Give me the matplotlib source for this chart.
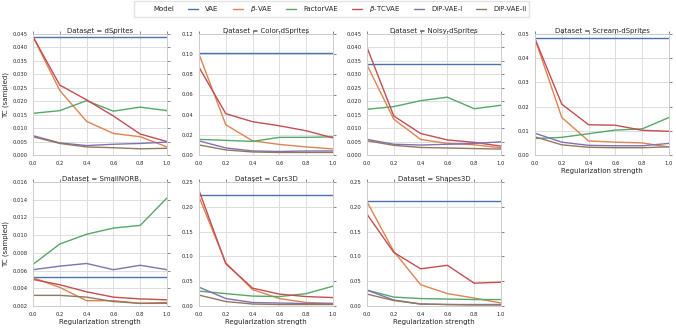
import numpy as np
import matplotlib
matplotlib.use('Agg')
import matplotlib.pyplot as plt
import seaborn as sns

sns.set_style('whitegrid')
plt.rcParams['font.family'] = ['DejaVu Sans']

strength = [0.0, 0.2, 0.4, 0.6, 0.8, 1.0]
models = ['VAE', r'$\beta$-VAE', 'FactorVAE', r'$\beta$-TCVAE', 'DIP-VAE-I', 'DIP-VAE-II']
datasets = ['dSprites', 'Color-dSprites', 'Noisy-dSprites', 'Scream-dSprites',
            'SmallNORB', 'Cars3D', 'Shapes3D']

# one list per model, in the order of `models`
tc_dsprites = [
  [0.044, 0.044, 0.044, 0.044, 0.044, 0.044],
  [0.044, 0.024, 0.0125, 0.008, 0.0068, 0.003],
  [0.0155, 0.0165, 0.0202, 0.0163, 0.0178, 0.0165],
  [0.044, 0.026, 0.0205, 0.0145, 0.0078, 0.005],
  [0.0072, 0.0045, 0.0035, 0.004, 0.0043, 0.0048],
  [0.0068, 0.0043, 0.003, 0.0027, 0.0023, 0.0025],
]
tc_color = [
  [0.101, 0.101, 0.101, 0.101, 0.101, 0.101],
  [0.1, 0.03, 0.014, 0.0105, 0.008, 0.006],
  [0.0155, 0.0145, 0.0135, 0.0175, 0.0175, 0.018],
  [0.087, 0.041, 0.033, 0.029, 0.024, 0.017],
  [0.014, 0.007, 0.004, 0.0035, 0.004, 0.004],
  [0.01, 0.005, 0.003, 0.0025, 0.0025, 0.0025],
]
tc_noisy = [
  [0.0338, 0.0338, 0.0338, 0.0338, 0.0338, 0.0338],
  [0.0335, 0.0133, 0.0058, 0.0043, 0.0038, 0.0027],
  [0.017, 0.018, 0.0202, 0.0215, 0.0172, 0.0185],
  [0.040, 0.0145, 0.008, 0.0056, 0.0047, 0.0033],
  [0.0058, 0.004, 0.0037, 0.004, 0.0043, 0.0049],
  [0.0053, 0.0036, 0.0028, 0.0026, 0.0024, 0.0022],
]
tc_scream = [
  [0.0485, 0.0485, 0.0485, 0.0485, 0.0485, 0.0485],
  [0.048, 0.0155, 0.0058, 0.0053, 0.005, 0.0033],
  [0.0068, 0.0073, 0.0088, 0.0103, 0.0108, 0.0155],
  [0.048, 0.021, 0.0125, 0.0123, 0.0102, 0.0098],
  [0.009, 0.0053, 0.004, 0.0038, 0.0038, 0.0048],
  [0.0075, 0.0042, 0.0032, 0.003, 0.003, 0.0034],
]
tc_norb = [
  [0.0053, 0.0053, 0.0053, 0.0053, 0.0053, 0.0053],
  [0.0052, 0.0041, 0.0026, 0.0026, 0.0023, 0.0024],
  [0.0067, 0.009, 0.0101, 0.0108, 0.0111, 0.0142],
  [0.005, 0.0044, 0.0036, 0.003, 0.0028, 0.0027],
  [0.0061, 0.0065, 0.0068, 0.0061, 0.0066, 0.0061],
  [0.0032, 0.0032, 0.003, 0.0025, 0.0023, 0.0023],
]
tc_cars = [
  [0.223, 0.223, 0.223, 0.223, 0.223, 0.223],
  [0.22, 0.087, 0.033, 0.015, 0.007, 0.005],
  [0.03, 0.025, 0.02, 0.019, 0.025, 0.04],
  [0.233, 0.085, 0.036, 0.024, 0.019, 0.017],
  [0.038, 0.015, 0.007, 0.006, 0.005, 0.005],
  [0.022, 0.009, 0.004, 0.003, 0.003, 0.003],
]
tc_shapes = [
  [0.211, 0.211, 0.211, 0.211, 0.211, 0.211],
  [0.21, 0.11, 0.043, 0.025, 0.016, 0.006],
  [0.032, 0.018, 0.015, 0.014, 0.013, 0.013],
  [0.185, 0.108, 0.075, 0.082, 0.046, 0.048],
  [0.032, 0.012, 0.004, 0.003, 0.003, 0.003],
  [0.024, 0.011, 0.004, 0.003, 0.002, 0.002],
]
all_tc = [tc_dsprites, tc_color, tc_noisy, tc_scream, tc_norb, tc_cars, tc_shapes]

# y ticks: (first, last, step, format)
yticks = [(0, 0.045, 0.005, '%.3f'), (0, 0.12, 0.02, '%.2f'), (0, 0.045, 0.005, '%.3f'),
          (0, 0.05, 0.01, '%.2f'), (0.002, 0.016, 0.002, '%.3f'), (0, 0.25, 0.05, '%.2f'),
          (0, 0.25, 0.05, '%.2f')]
colors = sns.color_palette('deep', 6)

fig = plt.figure(figsize=(6.76, 3.29), dpi=100)
lefts = [33, 199, 367, 535]
rows = [(34, 155), (182, 306)]
W, H = 676., 329.

lines = []
for k, name in enumerate(datasets):
  r, c = divmod(k, 4)
  top, bot = rows[r]
  ax = fig.add_axes([lefts[c] / W, 1 - bot / H, 134 / W, (bot - top) / H])
  for m in range(6):
    l, = ax.plot(strength, all_tc[k][m], color=colors[m], lw=1.0)
    if k == 0:
      lines.append(l)
  y0, y1, st, fmt = yticks[k]
  ticks = np.arange(y0, y1 + st / 2, st)
  ax.set_yticks(ticks)
  ax.set_yticklabels([fmt % t for t in ticks])
  ax.set_ylim(y0, y1)
  ax.set_xlim(0, 1)
  ax.set_xticks(strength)
  ax.set_xticklabels(['%.1f' % s for s in strength])
  ax.set_title('Dataset = ' + name, fontsize=5, pad=1)
  ax.tick_params(labelsize=3.8, direction='out', length=2.2, width=0.5, color='#555555',
                 top=True, right=True, pad=1.8)
  ax.grid(color='#dddddd', lw=0.7)
  for s in ax.spines.values():
    s.set_color('#cccccc')
    s.set_linewidth(0.7)
  if c == 0:
    ax.set_ylabel('TC (sampled)', fontsize=5, labelpad=2)
  if r == 1 or c == 3:
    ax.set_xlabel('Regularization strength', fontsize=5, labelpad=1.5)

title_handle = plt.Line2D([], [], color='none')
fig.legend([title_handle] + lines, ['Model'] + models, loc='center', ncol=7,
           bbox_to_anchor=(331.5 / W, 1 - 9 / H), fontsize=5, frameon=True,
           handlelength=1.45, columnspacing=2.0, handletextpad=1.0,
           borderpad=0.4, edgecolor='#dddddd', fancybox=False)

fig.savefig('out.png', dpi=100)
